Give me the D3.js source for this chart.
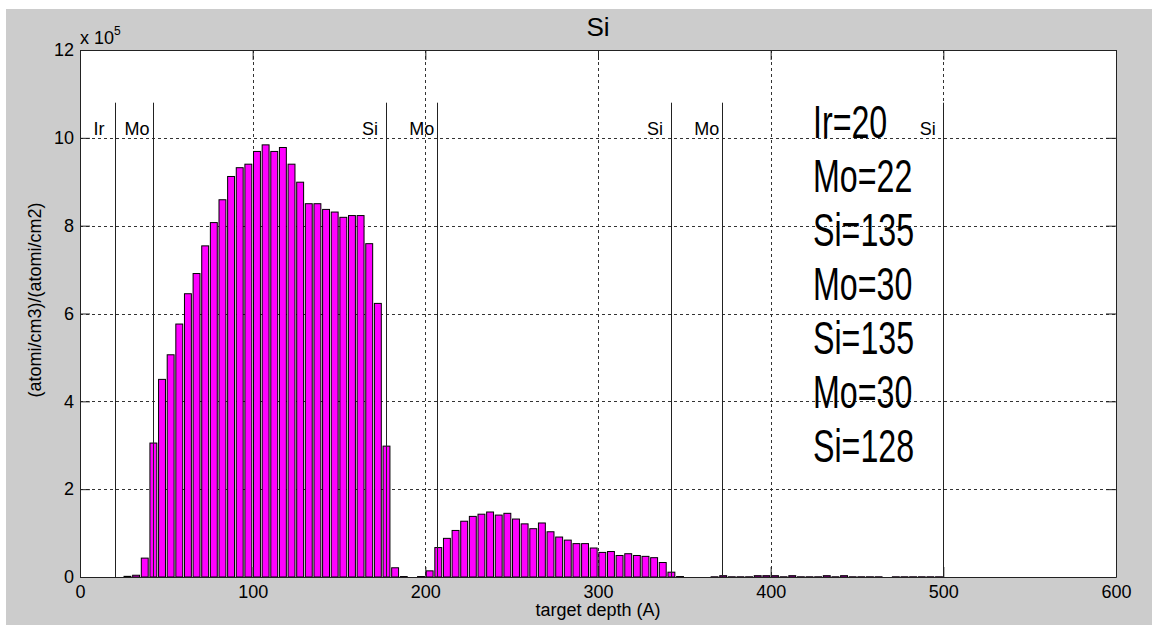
<!DOCTYPE html>
<html>
<head>
<meta charset="utf-8">
<script src="https://cdn.jsdelivr.net/npm/d3@7"></script>
<style>
    body { margin: 0; background: #fff; }
    svg { display: block; font-family: 'Liberation Sans', Arial, sans-serif; }
</style>
</head>
<body>
<div id="chart"></div>
<script>
// depth bins (A) and Si concentration (x 10^5)
const depth = [
    27.5, 32.5, 37.5, 42.5, 47.5, 52.5, 57.5, 62.5, 67.5, 72.5,
    77.5, 82.5, 87.5, 92.5, 97.5, 102.5, 107.5, 112.5, 117.5, 122.5,
    127.5, 132.5, 137.5, 142.5, 147.5, 152.5, 157.5, 162.5, 167.5, 172.5,
    177.5, 182.5, 187.5, 197.5, 202.5, 207.5, 212.5, 217.5, 222.5, 227.5,
    232.5, 237.5, 242.5, 247.5, 252.5, 257.5, 262.5, 267.5, 272.5, 277.5,
    282.5, 287.5, 292.5, 297.5, 302.5, 307.5, 312.5, 317.5, 322.5, 327.5,
    332.5, 337.5, 342.5, 347.5, 367.5, 372.5, 377.5, 382.5, 387.5, 392.5,
    397.5, 402.5, 407.5, 412.5, 417.5, 422.5, 427.5, 432.5, 437.5, 442.5,
    447.5, 452.5, 457.5, 462.5, 472.5, 477.5, 482.5, 487.5, 492.5, 497.5
];
const conc = [
    0.015, 0.04, 0.43, 3.05, 4.50, 5.06, 5.76, 6.45, 6.91, 7.54,
    8.07, 8.59, 9.12, 9.32, 9.40, 9.69, 9.84, 9.69, 9.78, 9.40,
    8.99, 8.50, 8.50, 8.37, 8.31, 8.19, 8.23, 8.23, 7.59, 6.23,
    2.98, 0.21, 0.01, 0.01, 0.14, 0.67, 0.88, 1.06, 1.27, 1.38,
    1.43, 1.48, 1.41, 1.45, 1.32, 1.21, 1.10, 1.23, 1.03, 0.91,
    0.84, 0.76, 0.76, 0.66, 0.56, 0.58, 0.49, 0.53, 0.49, 0.47,
    0.44, 0.33, 0.11, 0.01, 0.005, 0.03, 0.005, 0.005, 0.005, 0.03,
    0.03, 0.03, 0.005, 0.03, 0.005, 0.005, 0.005, 0.03, 0.005, 0.03,
    0.005, 0.005, 0.005, 0.005, 0.005, 0.005, 0.005, 0.005, 0.005, 0.005
];

// layer interfaces
const boundaries = [20, 42, 177, 207, 342, 372, 500];
const layerNames = ['Ir', 'Mo', 'Si', 'Mo', 'Si', 'Mo', 'Si'];
const stackNotes = ['Ir=20', 'Mo=22', 'Si=135', 'Mo=30', 'Si=135', 'Mo=30', 'Si=128'];

const xTicks = [0, 100, 200, 300, 400, 500, 600];
const yTicks = [0, 2, 4, 6, 8, 10, 12];

const width = 1159;
const height = 628;
const plot = { left: 80, right: 1116, top: 50, bottom: 577 };
const binWidth = 5;

const svg = d3.select('#chart').append('svg')
    .attr('width', width)
    .attr('height', height);

// figure background
svg.append('rect')
    .attr('x', 6).attr('y', 9)
    .attr('width', 1146).attr('height', 616)
    .attr('fill', '#cccccc');

const x = d3.scaleLinear().domain([0, 600]).range([plot.left, plot.right]);
const y = d3.scaleLinear().domain([0, 12]).range([plot.bottom, plot.top]);

svg.append('rect')
    .attr('x', plot.left).attr('y', plot.top)
    .attr('width', plot.right - plot.left)
    .attr('height', plot.bottom - plot.top)
    .attr('fill', '#fff');

// dotted grid
const grid = svg.append('g')
    .attr('stroke', '#333')
    .attr('stroke-width', 1)
    .attr('stroke-dasharray', '3,3');
grid.selectAll('.gx')
    .data(xTicks.slice(1, -1))
    .join('line')
    .attr('x1', d => Math.round(x(d)) + 0.5)
    .attr('x2', d => Math.round(x(d)) + 0.5)
    .attr('y1', plot.top)
    .attr('y2', plot.bottom);
grid.selectAll('.gy')
    .data(yTicks.slice(1, -1))
    .join('line')
    .attr('x1', plot.left)
    .attr('x2', plot.right)
    .attr('y1', d => Math.round(y(d)) + 0.5)
    .attr('y2', d => Math.round(y(d)) + 0.5);

// bars
const barW = x(binWidth * 0.8) - x(0);
svg.append('g')
    .selectAll('rect')
    .data(depth.map((d, i) => ({ depth: d, value: conc[i] })))
    .join('rect')
    .attr('x', d => x(d.depth) - barW / 2)
    .attr('y', d => y(d.value))
    .attr('width', barW)
    .attr('height', d => Math.max(0.5, y(0) - y(d.value)))
    .attr('fill', '#ff00ff')
    .attr('stroke', '#000')
    .attr('stroke-width', 1);

// layer interface lines + labels
svg.append('g')
    .selectAll('line')
    .data(boundaries)
    .join('line')
    .attr('x1', d => Math.round(x(d)) + 0.5)
    .attr('x2', d => Math.round(x(d)) + 0.5)
    .attr('y1', y(0))
    .attr('y2', y(10.8))
    .attr('stroke', '#222')
    .attr('stroke-width', 1);

svg.append('g')
    .selectAll('text')
    .data(boundaries)
    .join('text')
    .attr('x', d => x(d - 9))
    .attr('y', y(10) - 3)
    .attr('text-anchor', 'middle')
    .style('font-size', '18px')
    .attr('fill', '#000')
    .text((d, i) => layerNames[i]);

// stack description
svg.append('g')
    .selectAll('text')
    .data(stackNotes)
    .join('text')
    .attr('transform', (d, i) => `translate(813,${138 + 54 * i}) scale(0.7,1)`)
    .style('font-size', '46px')
    .attr('fill', '#000')
    .text(d => d);

// axes with inward ticks
const tickLen = 10;
const axisBottom = d3.axisBottom(x).tickValues(xTicks).tickSizeInner(-tickLen).tickSizeOuter(0).tickPadding(8);
const axisTop = d3.axisTop(x).tickValues(xTicks).tickSizeInner(-tickLen).tickSizeOuter(0).tickFormat('');
const axisLeft = d3.axisLeft(y).tickValues(yTicks).tickSizeInner(-tickLen).tickSizeOuter(0).tickPadding(6);
const axisRight = d3.axisRight(y).tickValues(yTicks).tickSizeInner(-tickLen).tickSizeOuter(0).tickFormat('');

const styleAxis = g => {
    g.select('.domain').attr('stroke', '#222');
    g.selectAll('.tick line').attr('stroke', '#222');
    g.selectAll('.tick text').attr('fill', '#000').style('font-size', '18px').style('font-family', "'Liberation Sans', Arial, sans-serif");
};

svg.append('g').attr('transform', `translate(0,${plot.bottom})`).call(axisBottom).call(styleAxis);
svg.append('g').attr('transform', `translate(0,${plot.top})`).call(axisTop).call(styleAxis);
svg.append('g').attr('transform', `translate(${plot.left},0)`).call(axisLeft).call(styleAxis);
svg.append('g').attr('transform', `translate(${plot.right},0)`).call(axisRight).call(styleAxis);

// exponent label
const expo = svg.append('text')
    .attr('x', plot.left)
    .attr('y', 44)
    .style('font-size', '18px')
    .attr('fill', '#000');
expo.append('tspan').text('x 10');
expo.append('tspan').attr('dy', -9).style('font-size', '12px').text('5');

// title and axis labels
svg.append('text')
    .attr('x', (plot.left + plot.right) / 2)
    .attr('y', 36)
    .attr('text-anchor', 'middle')
    .style('font-size', '26px')
    .attr('fill', '#000')
    .text('Si');

svg.append('text')
    .attr('x', (plot.left + plot.right) / 2)
    .attr('y', 616)
    .attr('text-anchor', 'middle')
    .style('font-size', '18px')
    .attr('fill', '#000')
    .text('target depth (A)');

svg.append('text')
    .attr('transform', 'translate(41,300) rotate(-90)')
    .attr('text-anchor', 'middle')
    .style('font-size', '18px')
    .attr('fill', '#000')
    .text('(atomi/cm3)/(atomi/cm2)');
</script>
</body>
</html>
